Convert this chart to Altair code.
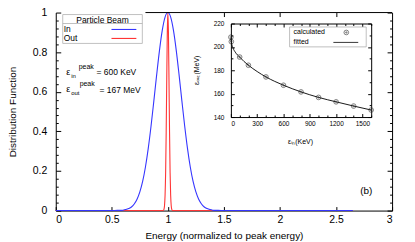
import altair as alt
import pandas as pd

FONT = "Liberation Sans"
W, H = 338, 199

# ---------------- main panel data ----------------
blue_x = [0.0, 0.50, 0.55, 0.575, 0.60, 0.625, 0.65, 0.675, 0.70, 0.725, 0.75, 0.775,
          0.80, 0.825, 0.85, 0.875, 0.90, 0.925, 0.95, 0.975, 1.00, 1.025, 1.05, 1.075,
          1.10, 1.125, 1.15, 1.175, 1.20, 1.225, 1.25, 1.275, 1.30, 1.325, 1.35, 1.375,
          1.40, 1.425, 1.45, 1.50, 2.65]
blue_y = [0, 0, 0.001, 0.001, 0.002, 0.005, 0.010, 0.018, 0.033, 0.057, 0.094, 0.147,
          0.220, 0.314, 0.427, 0.554, 0.685, 0.808, 0.910, 0.977, 1.000, 0.977, 0.910, 0.808,
          0.685, 0.554, 0.427, 0.314, 0.220, 0.147, 0.094, 0.057, 0.033, 0.018, 0.010, 0.005,
          0.002, 0.001, 0.001, 0, 0]
red_x = [0.0, 0.955, 0.96, 0.965, 0.97, 0.975, 0.98, 0.985, 0.99, 0.995, 1.0, 1.005,
         1.01, 1.015, 1.02, 1.025, 1.03, 1.035, 1.04, 1.045, 2.65]
red_y = [0, 0, 0.001, 0.006, 0.024, 0.076, 0.191, 0.395, 0.662, 0.902, 1.0, 0.902,
         0.662, 0.395, 0.191, 0.076, 0.024, 0.006, 0.001, 0, 0]
series = ["In", "Out"]
series_colors = ["#3535ff", "#ff3535"]
legend_title = "Particle Beam"

x_major = [0, 0.5, 1, 1.5, 2, 2.5, 3]
x_top_ticks = [1.5, 2, 2.5]
y_major = [0, 0.2, 0.4, 0.6, 0.8, 1]
y_minor = [0.04, 0.08, 0.12, 0.16, 0.24, 0.28, 0.32, 0.36, 0.44, 0.48, 0.52, 0.56,
           0.64, 0.68, 0.72, 0.76, 0.84, 0.88, 0.92, 0.96]

# ---------------- inset data ----------------
ein_calc = [0, 5, 100, 200, 400, 600, 800, 1000, 1200, 1400, 1600]
eout_calc = [208.3, 204.5, 191.3, 184.3, 174.3, 167.2, 161.5, 156.8, 153.0, 149.4, 146.0]
ein_fit = [0, 5, 25, 50, 100, 150, 200, 300, 400, 500, 600, 800, 1000, 1200, 1400, 1600]
eout_fit = [207.5, 204.5, 199.0, 195.5, 191.3, 187.5, 184.3, 178.9, 174.3, 170.5, 167.2,
            161.5, 156.8, 153.0, 149.4, 146.0]
inset_x_major = [0, 300, 600, 900, 1200, 1500]
inset_x_minor = [100, 200, 400, 500, 700, 800, 1000, 1100, 1300, 1400, 1600]
inset_y_major = [140, 160, 180, 200, 220]
inset_y_minor = [150, 170, 190, 210]

XS = alt.Scale(domain=[0, 3], nice=False, zero=False)
YS = alt.Scale(domain=[0, 1], nice=False, zero=False)
XI = alt.Scale(domain=[0, 1600], range=[176, 317], nice=False, zero=False)
YI = alt.Scale(domain=[140, 220], range=[105, 11], nice=False, zero=False)

ONE = alt.Data(values=[{"k": 0}])


def x_axis_layer(scale, lo, hi, **kw):
    kw.setdefault("title", None)
    kw.setdefault("grid", False)
    return alt.Chart(pd.DataFrame({"v": [lo, hi]})).mark_point(opacity=0).encode(
        x=alt.X("v:Q", scale=scale, axis=alt.Axis(**kw)))


def y_axis_layer(scale, lo, hi, **kw):
    kw.setdefault("title", None)
    kw.setdefault("grid", False)
    return alt.Chart(pd.DataFrame({"v": [lo, hi]})).mark_point(opacity=0).encode(
        y=alt.Y("v:Q", scale=scale, axis=alt.Axis(**kw)))


def txt(s, x, y, size=9, align="left", baseline="middle", angle=0):
    return alt.Chart(ONE).mark_text(text=s, fontSize=size, align=align, baseline=baseline,
                                    angle=angle, font=FONT, color="black").encode(
        x=alt.value(x), y=alt.value(y))


def hrule(x1, x2, y, color="black", w=1.0):
    return alt.Chart(ONE).mark_rule(color=color, strokeWidth=w).encode(
        x=alt.value(x1), x2=alt.value(x2), y=alt.value(y))


def box(x1, x2, y1, y2, stroke="#b0b0b0"):
    return alt.Chart(ONE).mark_rect(fill="white", stroke=stroke, strokeWidth=0.8).encode(
        x=alt.value(x1), x2=alt.value(x2), y=alt.value(y1), y2=alt.value(y2))


df_in = pd.DataFrame({"energy": blue_x, "value": blue_y})
df_out = pd.DataFrame({"energy": red_x, "value": red_y})

# red (Out) drawn first, blue (In) on top, as in the reference
curve_out = alt.Chart(df_out).mark_line(strokeWidth=1.1, interpolate="monotone",
                                        color=series_colors[1]).encode(
    x=alt.X("energy:Q", scale=XS, axis=None),
    y=alt.Y("value:Q", scale=YS, axis=None),
)

curve_in = alt.Chart(df_in).mark_line(strokeWidth=1.1, interpolate="monotone",
                                      color=series_colors[0]).encode(
    x=alt.X("energy:Q", scale=XS, axis=alt.Axis(
        values=x_major, format="~g", ticks=False, domain=True, labelPadding=4,
        labelFontSize=10.5, title="Energy (normalized to peak energy)", titleFontSize=10,
        titleFontWeight="normal", titleY=25, titleBaseline="middle", grid=False)),
    y=alt.Y("value:Q", scale=YS, axis=alt.Axis(
        values=y_major, format="~g", ticks=False, domain=True, labelPadding=9,
        labelFontSize=10.5, title="Distribution Function", titleFontSize=10,
        titleFontWeight="normal", titleX=-43, titleY=H / 2, titleBaseline="middle",
        grid=False)),
)

main_ticks = [
    x_axis_layer(XS, 0, 3, orient="top", offset=-H, values=x_major, labels=False,
                 domain=False, tickSize=4),
    x_axis_layer(XS, 0, 3, orient="bottom", offset=-H, values=x_top_ticks, labels=False,
                 domain=False, tickSize=4),
    y_axis_layer(YS, 0, 1, orient="right", offset=-W, values=y_major, labels=False,
                 domain=False, tickSize=5),
    y_axis_layer(YS, 0, 1, orient="right", offset=-W, values=y_minor, labels=False,
                 domain=False, tickSize=2.5),
    y_axis_layer(YS, 0, 1, orient="left", offset=-W, values=y_major, labels=False,
                 domain=True, tickSize=5),
    y_axis_layer(YS, 0, 1, orient="left", offset=-W, values=y_minor, labels=False,
                 domain=False, tickSize=2.5),
]

top_border = alt.Chart(ONE).mark_rule(color="black", strokeWidth=1).encode(
    x=alt.XDatum(0.8, scale=XS, axis=None), x2=alt.X2Datum(3), y=alt.value(0))

# ---------------- inset ----------------
df_calc = pd.DataFrame({"ein": ein_calc, "eout": eout_calc})
df_fit = pd.DataFrame({"ein": ein_fit, "eout": eout_fit})

fit_line = alt.Chart(df_fit).mark_line(color="black", strokeWidth=0.9,
                                        interpolate="monotone").encode(
    x=alt.X("ein:Q", scale=XI, axis=None), y=alt.Y("eout:Q", scale=YI, axis=None))
calc_circ = alt.Chart(df_calc).mark_point(shape="circle", filled=False, size=22,
                                          color="#222", strokeWidth=0.8).encode(
    x=alt.X("ein:Q", scale=XI, axis=None), y=alt.Y("eout:Q", scale=YI, axis=None))
PLUS = "M-0.6,0L0.6,0M0,-0.6L0,0.6"
calc_plus = alt.Chart(df_calc).mark_point(shape=PLUS, filled=False, size=22,
                                          color="#222", strokeWidth=0.6).encode(
    x=alt.X("ein:Q", scale=XI, axis=None), y=alt.Y("eout:Q", scale=YI, axis=None))

inset_axes = [
    x_axis_layer(XI, 0, 1600, orient="bottom", offset=-94, values=inset_x_major,
                 format="d", ticks=False, domain=True, labelFontSize=6.5, labelPadding=4),
    x_axis_layer(XI, 0, 1600, orient="top", offset=-105, values=inset_x_major,
                 labels=False, domain=False, tickSize=3.5),
    x_axis_layer(XI, 0, 1600, orient="top", offset=-105, values=inset_x_minor,
                 labels=False, domain=False, tickSize=2),
    x_axis_layer(XI, 0, 1600, orient="bottom", offset=-188, values=inset_x_major,
                 labels=False, domain=True, tickSize=3.5),
    x_axis_layer(XI, 0, 1600, orient="bottom", offset=-188, values=inset_x_minor,
                 labels=False, domain=False, tickSize=2),
    y_axis_layer(YI, 140, 220, orient="left", offset=-176, values=inset_y_major,
                 format="d", ticks=False, domain=True, labelFontSize=6.5, labelPadding=7),
    y_axis_layer(YI, 140, 220, orient="right", offset=-162, values=inset_y_major,
                 labels=False, domain=False, tickSize=3.5),
    y_axis_layer(YI, 140, 220, orient="right", offset=-162, values=inset_y_minor,
                 labels=False, domain=False, tickSize=2),
    y_axis_layer(YI, 140, 220, orient="left", offset=-317, values=inset_y_major,
                 labels=False, domain=True, tickSize=3.5),
    y_axis_layer(YI, 140, 220, orient="left", offset=-317, values=inset_y_minor,
                 labels=False, domain=False, tickSize=2),
]

inset_titles = [
    txt("εᵢₙ(KeV)", 246, 130, size=7, align="center"),
    txt("εₒᵤₜ(MeV)", 142, 58, size=7, align="center", angle=270),
]

inset_legend = [
    box(235, 312, 14.5, 34.5),
    txt("calculated", 239, 20, size=7),
    txt("fitted", 239, 30, size=7),
    alt.Chart(ONE).mark_point(shape="circle", filled=False, size=22, color="#222",
                              strokeWidth=0.8).encode(x=alt.value(292), y=alt.value(20)),
    alt.Chart(ONE).mark_point(shape=PLUS, filled=False, size=22, color="#222",
                              strokeWidth=0.6).encode(x=alt.value(292), y=alt.value(20)),
    hrule(279, 304, 30, color="#222", w=0.9),
]

# ---------------- main legend and annotations ----------------
main_legend = [
    box(7, 87, 2, 31),
    hrule(7, 87, 11, color="#b0b0b0", w=0.8),
    txt(legend_title, 47, 7, size=8.5, align="center"),
    txt(series[0], 8, 17, size=8.5),
    txt(series[1], 8, 26, size=8.5),
    hrule(56, 81, 17, color=series_colors[0], w=1.1),
    hrule(56, 81, 26, color=series_colors[1], w=1.1),
]

annotations = [
    txt("ε", 10.5, 60, size=9),
    txt("in", 15.5, 63.5, size=6),
    txt("peak", 23, 54.5, size=7),
    txt("= 600 KeV", 41, 60, size=8.5),
    txt("ε", 10.5, 77, size=9),
    txt("out", 15.5, 80.5, size=6),
    txt("peak", 24, 72, size=7),
    txt("= 167 MeV", 44, 77.5, size=8.5),
    txt("(b)", 312, 179, size=10, align="center"),
]

layers = ([curve_out, curve_in, top_border] + main_ticks + [fit_line, calc_circ, calc_plus]
          + inset_axes + inset_titles + inset_legend + main_legend + annotations)

chart = alt.layer(*layers).resolve_scale(
    x="independent", y="independent"
).properties(
    width=W, height=H,
    autosize=alt.AutoSizeParams(type="none"),
    padding={"left": 48, "top": 4, "right": 15, "bottom": 30},
).configure_view(stroke=None).configure_axis(
    labelFont=FONT, titleFont=FONT, labelColor="black", titleColor="black",
    domainColor="black", tickColor="black", domainWidth=1, tickWidth=1, grid=False,
)

chart.save("out.html", embed_options={"renderer": "svg", "actions": False})
